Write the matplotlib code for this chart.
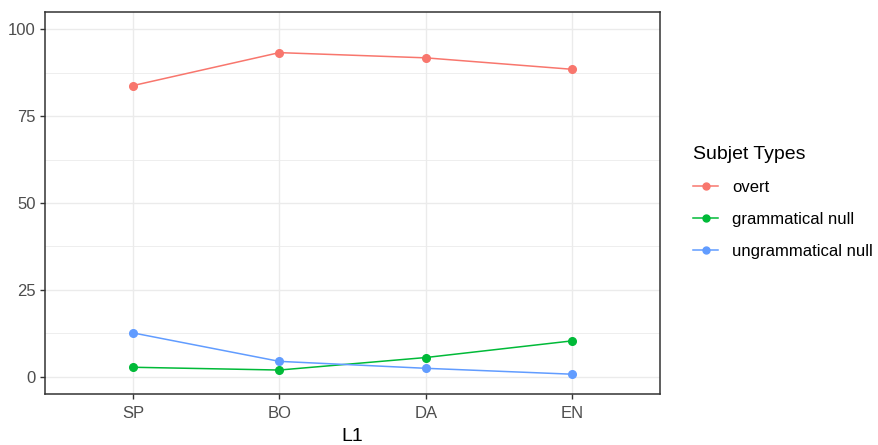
import matplotlib
matplotlib.use("Agg")
import matplotlib.pyplot as plt
from matplotlib.lines import Line2D
import numpy as np

plt.rc('font', family=['Liberation Sans', 'DejaVu Sans'])

# data
categories = ['SP', 'BO', 'DA', 'EN']
overt = [83.8, 93.3, 91.8, 88.5]
grammatical_null = [2.7, 1.9, 5.5, 10.3]
ungrammatical_null = [12.6, 4.4, 2.4, 0.7]

series_names = ['overt', 'grammatical null', 'ungrammatical null']
series_colors = ['#F8766D', '#00BA38', '#619CFF']

fig = plt.figure(figsize=(8.79, 4.45), dpi=100)
ax = fig.add_axes([45 / 879, 51 / 445, 615 / 879, 382 / 445])

x = np.arange(len(categories))
for vals, name, col in zip([overt, grammatical_null, ungrammatical_null],
                           series_names, series_colors):
    ax.plot(x, vals, color=col, lw=1.1, marker='o', ms=5.5, label=name,
            zorder=3)

ax.set_xlim(-0.6, len(categories) - 1 + 0.6)
ax.set_ylim(-5, 105)
ax.set_xticks(x)
ax.set_xticklabels(categories)
ax.set_yticks([0, 25, 50, 75, 100])
ax.set_yticks([12.5, 37.5, 62.5, 87.5], minor=True)

ax.grid(True, which='major', color='#EBEBEB', lw=1.0)
ax.grid(True, which='minor', axis='y', color='#EBEBEB', lw=0.6)
ax.set_axisbelow(True)

for s in ax.spines.values():
    s.set_color('#333333')
    s.set_linewidth(1.1)
ax.tick_params(which='major', length=3.5, width=1.0, color='#333333',
               labelcolor='#4D4D4D', labelsize=12, pad=3)
ax.tick_params(axis='x', which='major', pad=5)
ax.tick_params(which='minor', length=0)
ax.set_xlabel('L1', fontsize=14, color='black', labelpad=5)

handles = [Line2D([], [], color=c, lw=1.1, marker='o', ms=5)
           for c in series_colors]
leg = fig.legend(handles, series_names, title='Subjet Types',
                 loc='upper left', bbox_to_anchor=(678 / 879, 1 - 131 / 445),
                 frameon=False, fontsize=12, title_fontsize=14,
                 handlelength=1.5, handletextpad=0.85, labelspacing=1.02,
                 alignment='left')

fig.savefig('out.png', dpi=100)
